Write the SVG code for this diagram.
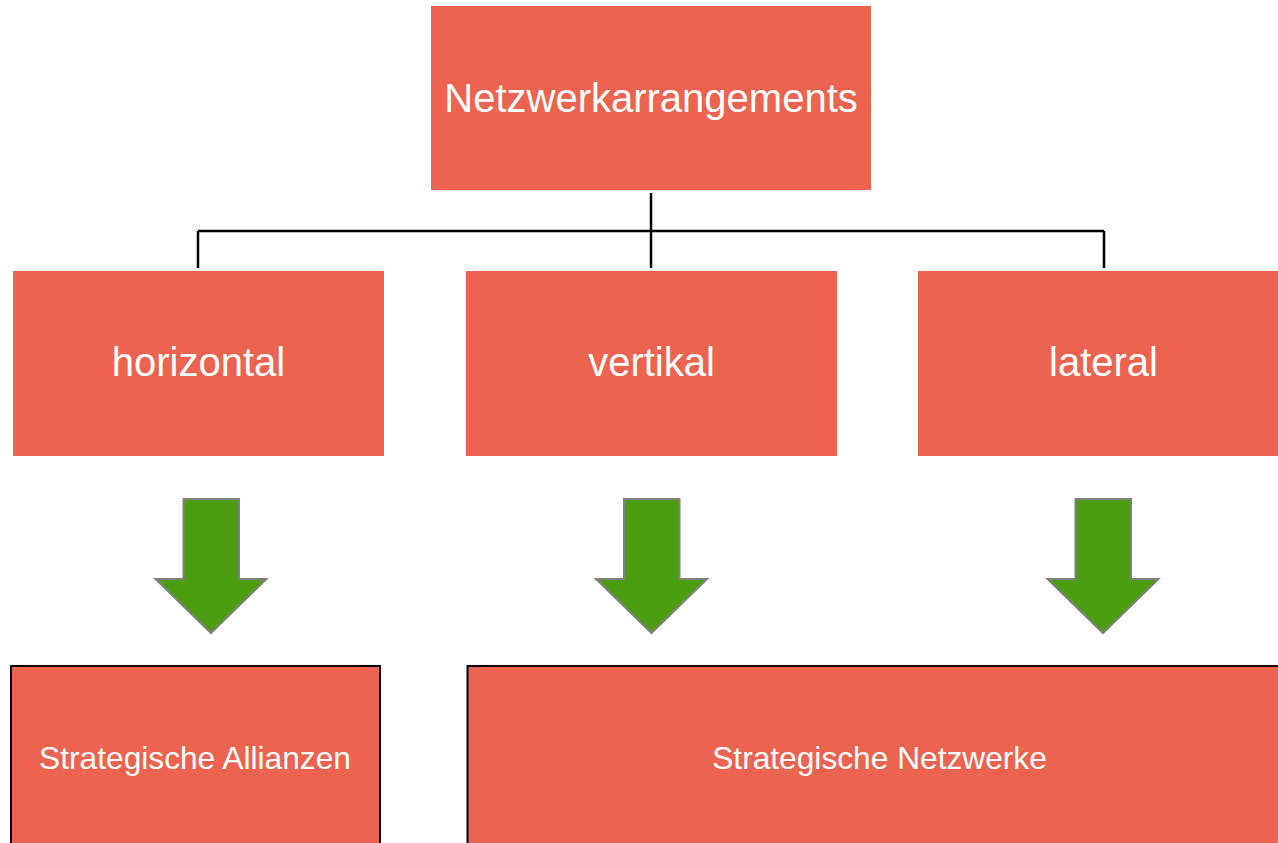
<svg xmlns="http://www.w3.org/2000/svg" width="1278" height="843" viewBox="0 0 1278 843">
  <defs>
    <style>
      .box { fill: #EC644F; }
      .outlined { fill: #EC644F; stroke: #000000; stroke-width: 2; }
      .label { fill: #FFFFFF; font-family: "Liberation Sans", Arial, sans-serif; text-anchor: middle; }
      .big { font-size: 40px; }
      .small { font-size: 31.7px; }
      .link { fill: none; stroke: #000000; stroke-width: 2.5; }
      .down { fill: #4A9E10; stroke: #808080; stroke-width: 2; stroke-linejoin: miter; }
    </style>
  </defs>
  <rect width="1278" height="843" fill="#FFFFFF"/>

  <!-- tree connectors -->
  <g id="connectors">
    <path class="link" d="M651 193 V268"/>
    <path class="link" d="M198 231 H1104"/>
    <path class="link" d="M198 231 V268"/>
    <path class="link" d="M1104 231 V268"/>
  </g>

  <g id="root">
    <rect class="box" x="431" y="6" width="440" height="184"/>
    <text class="label big" x="651" y="112">Netzwerkarrangements</text>
  </g>

  <g id="horizontal">
    <rect class="box" x="13" y="271" width="371" height="185"/>
    <text class="label big" x="198.5" y="376">horizontal</text>
  </g>

  <g id="vertikal">
    <rect class="box" x="466" y="271" width="371" height="185"/>
    <text class="label big" x="651.5" y="376">vertikal</text>
  </g>

  <g id="lateral">
    <rect class="box" x="918" y="271" width="371" height="185"/>
    <text class="label big" x="1103.5" y="376">lateral</text>
  </g>

  <!-- block arrows -->
  <g id="arrows">
    <path class="down" d="M183.5 499 H239 V579 H266.5 L211 633 L155.5 579 H183.5 Z"/>
    <path class="down" d="M624 499 H679.5 V579 H707 L651.5 633 L596 579 H624 Z"/>
    <path class="down" d="M1075.5 499 H1131 V579 H1158.5 L1103 633 L1047.5 579 H1075.5 Z"/>
  </g>

  <g id="allianzen">
    <rect class="outlined" x="11" y="666" width="369" height="190"/>
    <text class="label small" x="195" y="769">Strategische Allianzen</text>
  </g>

  <g id="netzwerke">
    <rect class="outlined" x="467.5" y="666" width="824" height="190"/>
    <text class="label small" x="879.5" y="769">Strategische Netzwerke</text>
  </g>
</svg>
